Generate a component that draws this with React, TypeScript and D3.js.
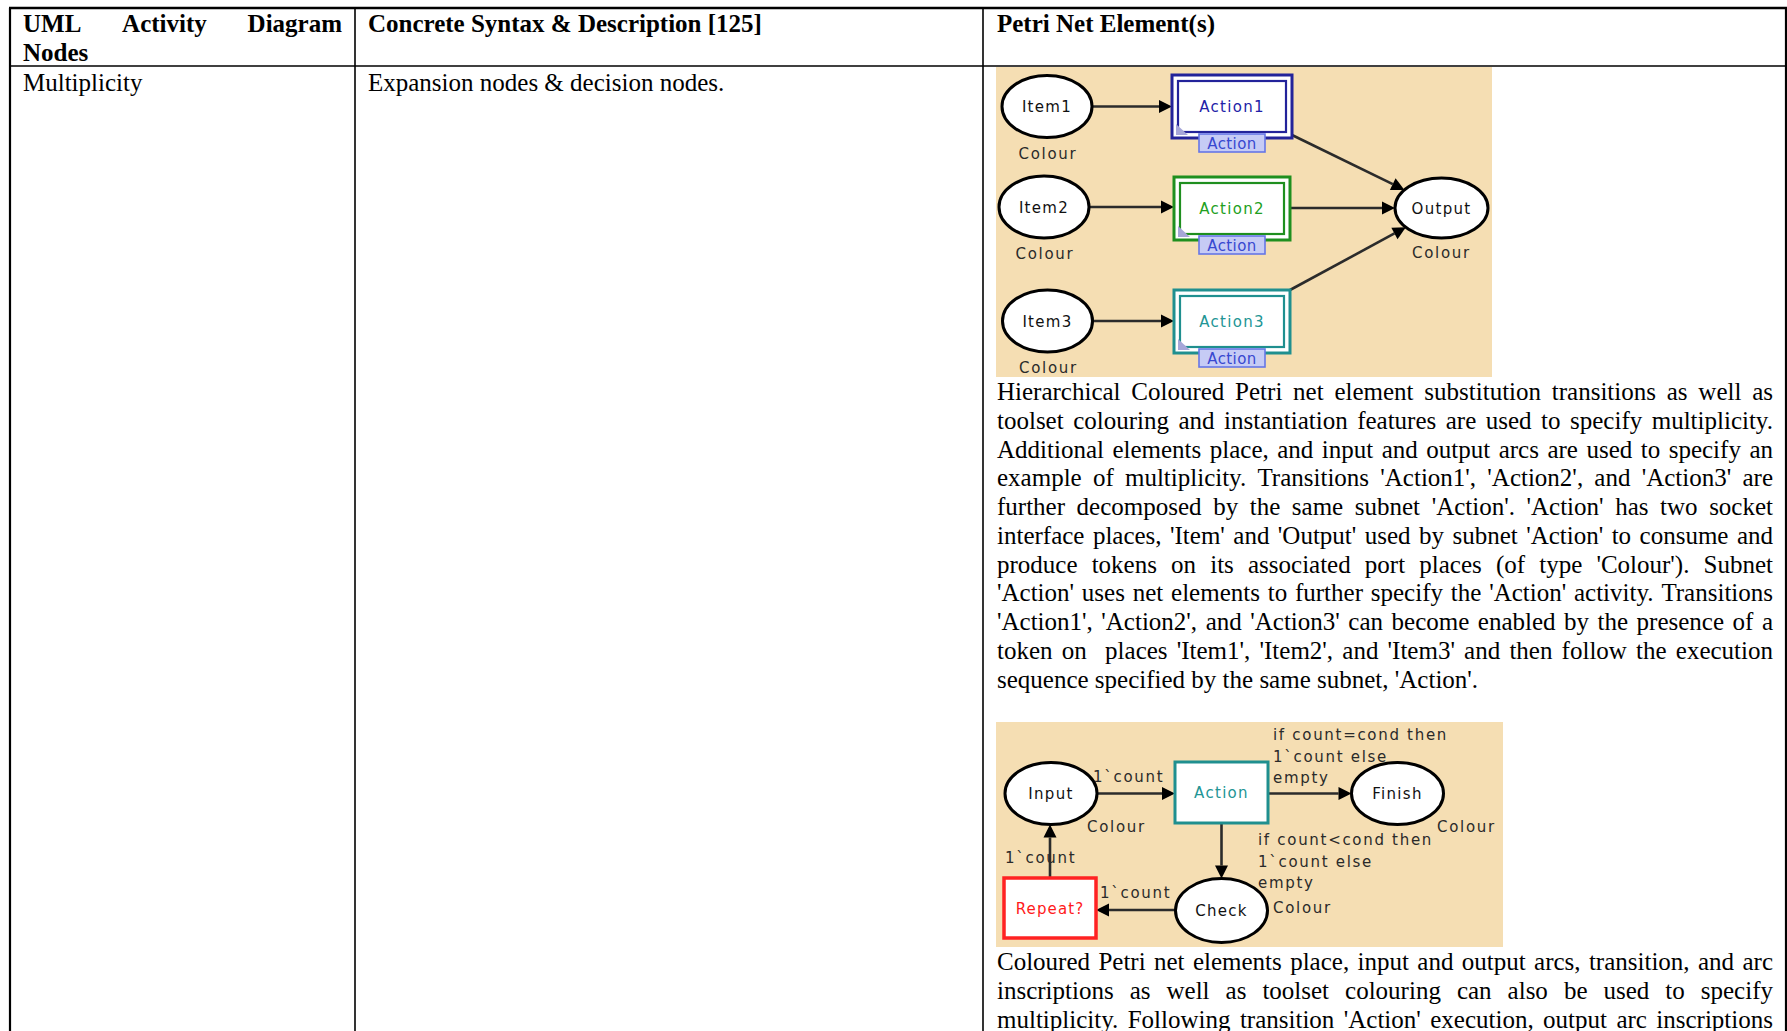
import React, { useEffect, useRef } from 'react';
import * as d3 from 'd3';

// table text
const headerCol1 = ['UML Activity Diagram', 'Nodes'];
const headerCol2 = 'Concrete Syntax & Description [125]';
const headerCol3 = 'Petri Net Element(s)';
const rowName = 'Multiplicity';
const rowSyntax = 'Expansion nodes & decision nodes.';

const paragraph1 = [
  'Hierarchical Coloured Petri net element substitution transitions as well as',
  'toolset colouring and instantiation features are used to specify multiplicity.',
  'Additional elements place, and input and output arcs are used to specify an',
  "example of multiplicity. Transitions 'Action1', 'Action2', and 'Action3' are",
  "further decomposed by the same subnet 'Action'. 'Action' has two socket",
  "interface places, 'Item' and 'Output' used by subnet 'Action' to consume and",
  "produce tokens on its associated port places (of type 'Colour'). Subnet",
  "'Action' uses net elements to further specify the 'Action' activity. Transitions",
  "'Action1', 'Action2', and 'Action3' can become enabled by the presence of a",
  "token on  places 'Item1', 'Item2', and 'Item3' and then follow the execution",
  "sequence specified by the same subnet, 'Action'.",
];
const paragraph2 = [
  'Coloured Petri net elements place, input and output arcs, transition, and arc',
  'inscriptions as well as toolset colouring can also be used to specify',
  "multiplicity. Following transition 'Action' execution, output arc inscriptions",
];

// net 1: substitution transitions
const items = ['Item1', 'Item2', 'Item3'];
const actions = ['Action1', 'Action2', 'Action3'];
const actionColours = ['#23239a', '#1f8f1f', '#1f8f8f'];
const actionText = ['#2222a8', '#22a022', '#229595'];
const subnetName = 'Action';
const outputName = 'Output';
const colourSet = 'Colour';

// net 2: loop
const loopPlaces = ['Input', 'Finish', 'Check'];
const arcCount = '1`count';
const finishGuard = ['if count=cond then', '1`count else', 'empty'];
const checkGuard = ['if count<cond then', '1`count else', 'empty'];

const serif = '"Liberation Serif", "Times New Roman", serif';
const sans = '"DejaVu Sans", Verdana, sans-serif';

export default function App() {
  const svgRef = useRef<SVGSVGElement>(null);

  useEffect(() => {
    document.body.style.margin = '0';
    document.body.style.overflow = 'hidden';
    if (!svgRef.current) return;
    const svg = d3.select(svgRef.current);
    svg.selectAll('*').remove();

    const W = 1787, H = 1031;
    const colX = [10, 355, 983, 1786];
    const rowY = [8, 66];
    const lineH = 28.75;

    svg.append('rect').attr('width', W).attr('height', H).attr('fill', '#fff');

    const measure = svg.append('text')
      .style('font-family', serif).style('font-size', '25px').style('white-space', 'pre');

    const width = (s: string, bold: boolean) => {
      measure.style('font-weight', bold ? 'bold' : 'normal').text(s);
      return (measure.node() as SVGTextElement).getComputedTextLength();
    };

    const textG = svg.append('g').style('font-family', serif).style('font-size', '25px').attr('fill', '#000');

    // one line of text, optionally justified to a width
    const line = (s: string, x: number, y: number, w: number | null, bold = false) => {
      if (w === null) {
        textG.append('text').attr('x', x).attr('y', y)
          .style('font-weight', bold ? 'bold' : 'normal').style('white-space', 'pre').text(s);
        return;
      }
      const words = s.split(' ');
      const ws = words.map(t => (t ? width(t, bold) : 0));
      const gap = (w - d3.sum(ws)) / (words.length - 1);
      let cx = x;
      words.forEach((t, i) => {
        if (t) {
          textG.append('text').attr('x', cx).attr('y', y)
            .style('font-weight', bold ? 'bold' : 'normal').text(t);
        }
        cx += ws[i] + gap;
      });
    };

    // header row
    line(headerCol1[0], 23, 32, colX[1] - 13 - 23, true);
    line(headerCol1[1], 23, 32 + 29, null, true);
    line(headerCol2, 368, 32, null, true);
    line(headerCol3, 997, 32, null, true);

    // body row
    line(rowName, 23, 91, null);
    line(rowSyntax, 368, 91, null);

    const textW = 1773 - 997;
    paragraph1.forEach((s, i) => {
      const last = i === paragraph1.length - 1;
      line(s, 997, 400 + i * lineH, last ? null : textW);
    });
    paragraph2.forEach((s, i) => {
      line(s, 997, 970 + i * lineH, textW);
    });

    measure.remove();

    // helpers for the nets
    const arrow = (g: any, p1: number[], p2: number[], colour = '#2b2b2b') => {
      const dx = p2[0] - p1[0], dy = p2[1] - p1[1];
      const len = Math.hypot(dx, dy);
      const ux = dx / len, uy = dy / len;
      const hl = 13, hw = 6.5;
      const bx = p2[0] - ux * hl, by = p2[1] - uy * hl;
      g.append('line').attr('x1', p1[0]).attr('y1', p1[1]).attr('x2', bx).attr('y2', by)
        .attr('stroke', colour).attr('stroke-width', 2.6);
      g.append('path')
        .attr('d', `M${p2[0]},${p2[1]}L${bx - uy * hw},${by + ux * hw}L${bx + uy * hw},${by - ux * hw}Z`)
        .attr('fill', '#000');
    };
    const edge = (c: number[], rx: number, ry: number, from: number[]) => {
      const qx = from[0] - c[0], qy = from[1] - c[1];
      const s = 1 / Math.sqrt((qx / rx) ** 2 + (qy / ry) ** 2);
      return [c[0] + qx * s, c[1] + qy * s];
    };
    const place = (g: any, c: number[], rx: number, ry: number, name: string) => {
      g.append('ellipse').attr('cx', c[0]).attr('cy', c[1]).attr('rx', rx).attr('ry', ry)
        .attr('fill', '#fff').attr('stroke', '#000').attr('stroke-width', 3);
      g.append('text').attr('x', c[0]).attr('y', c[1] + 5.5).attr('text-anchor', 'middle')
        .style('letter-spacing', '1.3px').attr('fill', '#111').text(name);
    };
    const label = (g: any, s: string, x: number, y: number, anchor = 'start', fill = '#2a2a2a') => {
      g.append('text').attr('x', x).attr('y', y).attr('text-anchor', anchor)
        .style('letter-spacing', '1.7px').attr('fill', fill).text(s);
    };

    // net 1
    const n1 = svg.append('g').style('font-family', sans).style('font-size', '15px');
    n1.append('rect').attr('x', 996).attr('y', 67).attr('width', 496).attr('height', 310).attr('fill', '#f5deb3');

    const itemC = [[1047, 106.5], [1044, 207], [1047.5, 321]];
    const boxX = [[1172, 1292], [1174, 1290], [1174, 1290]];
    const boxY = [[75, 138], [177, 240], [290, 353]];
    const outC = [1441.5, 208];
    const outR = [46.5, 30];
    const arcStart = [[1292, 135], [1290, 208], [1290, 290]];

    items.forEach((name, i) => {
      const c = itemC[i];
      arrow(n1, edge(c, 45, 31, [boxX[i][0], c[1]]), [boxX[i][0], c[1]]);
      arrow(n1, arcStart[i], edge(outC, outR[0], outR[1], arcStart[i]));
    });

    items.forEach((name, i) => {
      const c = itemC[i];
      place(n1, c, 45, 31, name);
      label(n1, colourSet, c[0] + 1, c[1] + 52, 'middle');
    });

    actions.forEach((name, i) => {
      const [x0, x1] = boxX[i];
      const [y0, y1] = boxY[i];
      const col = actionColours[i];
      n1.append('rect').attr('x', x0).attr('y', y0).attr('width', x1 - x0).attr('height', y1 - y0)
        .attr('fill', '#fff').attr('stroke', col).attr('stroke-width', 3);
      n1.append('rect').attr('x', x0 + 6).attr('y', y0 + 6).attr('width', x1 - x0 - 12).attr('height', y1 - y0 - 12)
        .attr('fill', '#fff').attr('stroke', col).attr('stroke-width', 2.2);
      n1.append('path')
        .attr('d', `M${x0 + 4},${y1 - 14}L${x0 + 4},${y1 - 3}L${x0 + 16},${y1 - 3}Z`)
        .attr('fill', '#a6a6d8');
      n1.append('text').attr('x', (x0 + x1) / 2).attr('y', (y0 + y1) / 2 + 5.5).attr('text-anchor', 'middle')
        .style('letter-spacing', '1.3px').attr('fill', actionText[i]).text(name);
      const tx = (x0 + x1) / 2 - 33;
      n1.append('rect').attr('x', tx).attr('y', y1 - 4).attr('width', 66).attr('height', 18)
        .attr('fill', '#c6cbf5').attr('stroke', '#6676e6').attr('stroke-width', 1.6);
      n1.append('text').attr('x', (x0 + x1) / 2).attr('y', y1 + 10.5).attr('text-anchor', 'middle')
        .style('font-size', '15px').style('letter-spacing', '0.4px').attr('fill', '#3848d0').text(subnetName);
    });

    place(n1, outC, outR[0], outR[1], outputName);
    label(n1, colourSet, outC[0], outC[1] + 50, 'middle');

    // net 2
    const n2 = svg.append('g').style('font-family', sans).style('font-size', '15px');
    n2.append('rect').attr('x', 996).attr('y', 722).attr('width', 507).attr('height', 225).attr('fill', '#f5deb3');

    const inC = [1051, 793.5];
    const finC = [1397.5, 793.5];
    const chkC = [1221.5, 910.5];
    const act = { x0: 1175, x1: 1268, y0: 762, y1: 823 };
    const rep = { x0: 1004, x1: 1096, y0: 878, y1: 938 };
    const pr = [46, 31];

    arrow(n2, edge(inC, pr[0], pr[1], [act.x0, inC[1]]), [act.x0, inC[1]]);
    arrow(n2, [act.x1, finC[1]], edge(finC, pr[0], pr[1], [act.x1, finC[1]]));
    arrow(n2, [chkC[0], act.y1], [chkC[0], chkC[1] - 32]);
    arrow(n2, [chkC[0] - 46, 910], [rep.x1, 910]);
    arrow(n2, [1050, rep.y0], [1050, inC[1] + pr[1]]);

    n2.append('rect').attr('x', act.x0).attr('y', act.y0).attr('width', act.x1 - act.x0).attr('height', act.y1 - act.y0)
      .attr('fill', '#fff').attr('stroke', '#1f8f8f').attr('stroke-width', 3);
    n2.append('text').attr('x', (act.x0 + act.x1) / 2).attr('y', (act.y0 + act.y1) / 2 + 5.5).attr('text-anchor', 'middle')
      .style('letter-spacing', '1.3px').attr('fill', '#229595').text(subnetName);

    n2.append('rect').attr('x', rep.x0).attr('y', rep.y0).attr('width', rep.x1 - rep.x0).attr('height', rep.y1 - rep.y0)
      .attr('fill', '#fff').attr('stroke', '#ff2222').attr('stroke-width', 3.5);
    n2.append('text').attr('x', (rep.x0 + rep.x1) / 2).attr('y', (rep.y0 + rep.y1) / 2 + 5.5).attr('text-anchor', 'middle')
      .style('letter-spacing', '1.1px').attr('fill', '#ff1a1a').text('Repeat?');

    [inC, finC, chkC].forEach((c, i) => place(n2, c, pr[0], i === 2 ? 32 : pr[1], loopPlaces[i]));

    label(n2, arcCount, 1093, 782);
    label(n2, colourSet, 1087, 832);
    finishGuard.forEach((s, i) => label(n2, s, 1273, 740 + i * 21.5));
    label(n2, colourSet, 1437, 832);
    checkGuard.forEach((s, i) => label(n2, s, 1258, 845 + i * 21.5));
    label(n2, colourSet, 1273, 913);
    label(n2, arcCount, 1100, 898);
    label(n2, arcCount, 1005, 863);

    // table rules
    const rules = svg.append('g').attr('stroke', '#000');
    rules.append('line').attr('x1', colX[0] - 1).attr('x2', colX[3] + 1).attr('y1', rowY[0]).attr('y2', rowY[0]).attr('stroke-width', 2.5);
    rules.append('line').attr('x1', colX[0]).attr('x2', colX[3]).attr('y1', rowY[1]).attr('y2', rowY[1]).attr('stroke-width', 1.6);
    colX.forEach((x, i) => {
      rules.append('line').attr('x1', x).attr('x2', x).attr('y1', rowY[0]).attr('y2', H)
        .attr('stroke-width', i === 0 || i === 3 ? 2.2 : 1.6);
    });
  }, []);

  return <svg ref={svgRef} width={1787} height={1031} style={{ display: 'block' }} />;
}
